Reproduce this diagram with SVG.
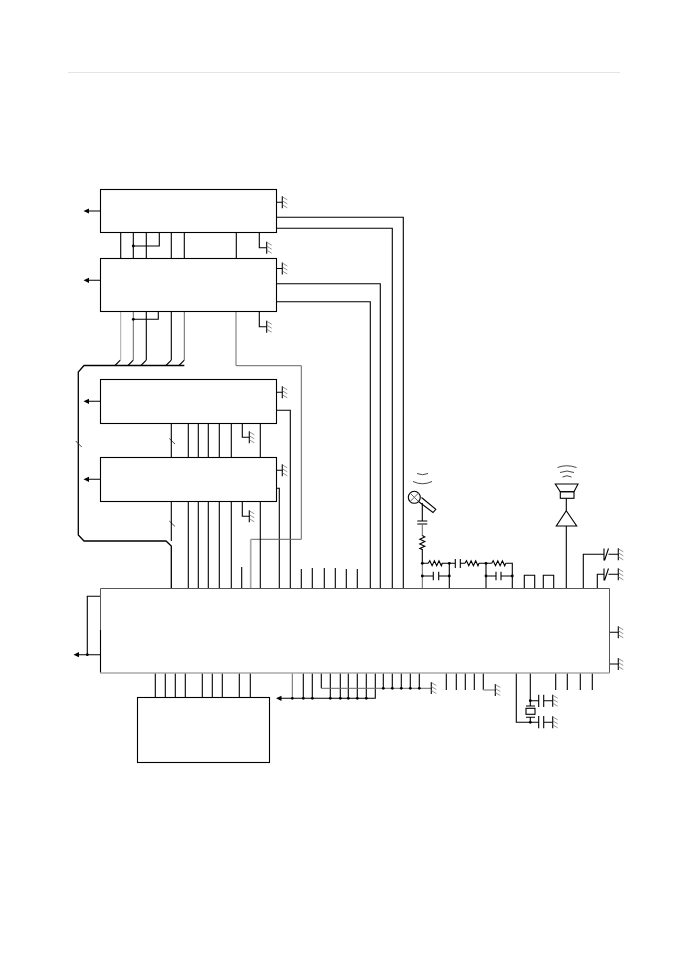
<svg xmlns="http://www.w3.org/2000/svg" width="688" height="972" viewBox="0 0 688 972">
<style>
.b{fill:#fff;stroke:#000;stroke-width:1.1}
.w{fill:none;stroke:#000;stroke-width:1.1}
.g{fill:none;stroke:#666;stroke-width:1}
.l{fill:none;stroke:#aaa;stroke-width:1}
.t{fill:none;stroke:#aaa;stroke-width:1.7}
.h{fill:none;stroke:#777;stroke-width:.8}
.a{fill:none;stroke:#333;stroke-width:.9}
.bus{fill:none;stroke:#000;stroke-width:1.3}
.d{fill:#000}
</style>
<defs>
<g id="gnd"><path class="w" d="M0,-6V6"/><path class="h" d="M0,-5.500l5,3M0,-1.500l5,3M0,2.500l5,3"/></g>
<g id="arr"><path class="d" d="M-0.500,0l5.500,-2.600v5.200z"/></g>
<circle id="dot" class="d" r="1.400"/>
<g id="res"><path class="w" d="M0,0l1.500,-2.500l2.300,5l2.300,-5l2.300,5l2.300,-5l2.300,5l1,-2.500"/></g>
</defs>
<rect width="688" height="972" fill="#fff"/>
<path d="M68,72.500H620" fill="none" stroke="#e4e4e4" stroke-width="1"/>

<g id="connectors">
<path class="w" d="M120.700,232V258M133.300,232V258M146.300,232V258M171.300,232V258M184.300,232V258M236.300,232V258M159.300,232V246H132.700"/>
<use href="#dot" x="133.300" y="246"/>
<path class="w" d="M259.300,232V247.700H266.700"/>
<use href="#gnd" x="266.700" y="247.700"/>
<path class="w" d="M100,211H87M100,280.300H87M100,401.300H87M100,479.300H87"/>
<use href="#arr" x="84" y="211"/><use href="#arr" x="84" y="280.300"/><use href="#arr" x="84" y="401.300"/><use href="#arr" x="84" y="479.300"/>
<path class="w" d="M276.500,202.300H282.300M276.500,268.500H282.300M276.500,392.300H282.300M276.500,470.300H282.300"/>
<use href="#gnd" x="282.300" y="202.300"/><use href="#gnd" x="282.300" y="268.500"/><use href="#gnd" x="282.300" y="392.300"/><use href="#gnd" x="282.300" y="470.300"/>
<path class="w" d="M276.500,217.300H403.300V588.500M276.500,228.300H392.300V588.500M276.500,283.700H380.300V588.500M276.500,301.700H370.300V588.500M276.500,410.300H290.300V588.500M276.500,488.300H279.300V588.500"/>
<path class="l" d="M120.700,311V360"/>
<path class="g" d="M133.300,311V360M184.300,311V360"/>
<path class="w" d="M146.300,311V360M171.300,311V360M158.300,311V319.300H132.700"/>
<use href="#dot" x="133.300" y="319.300"/>
<path class="w" d="M259.300,311V326.700H266.700"/>
<use href="#gnd" x="266.700" y="326.700"/>
<path class="t" d="M236,311V365.500"/>
<path class="g" d="M236,365.700H301.300V539.300H250.700"/>
<path class="t" d="M250.700,539.300V588.500"/>
<path class="bus" d="M184.300,365.500H84L78.300,372V535L84,541H166L171.300,546V588.500"/>
<path class="w" d="M115,365.500l5.300,-5.300M128,365.500l5.300,-5.300M141,365.500l5.300,-5.300M166,365.500l5.300,-5.300M179,365.500l5.300,-5.300"/>
<path class="a" d="M75.700,441l6,6M169.300,438.500l5.700,5.500M169.300,521l5.700,5.500"/>
<path class="w" d="M171.300,423V457M188.300,423V457M198.300,423V457M208.300,423V457M219.300,423V457M231.300,423V457M260.300,423V457M242.300,423V437.300H249.300"/>
<use href="#gnd" x="249.300" y="437.300"/>
<path class="w" d="M171.300,501V541M188.300,501V588.500M198.300,501V588.500M208.300,501V588.500M219.300,501V588.500M231.300,501V588.500M260.300,501V588.500M242.300,501V516.300H249.300"/>
<use href="#gnd" x="249.300" y="516.300"/>
<path class="w" d="M241.700,567V588.500M301.300,569V588.500M312.300,568V588.500M324.300,568V588.500M335.300,568V588.500M346.300,569V588.500M357.300,569V588.500"/>
<path class="w" d="M100.500,596.300H87.300V654.700M100.500,654.700H77"/>
<use href="#dot" x="87.300" y="654.700"/>
<use href="#arr" x="74" y="654.700"/>
<path class="w" d="M155.300,673V697M165.300,673V697M175.300,673V697M185.300,673V697M202.300,673V697M212.300,673V697M222.300,673V697M239.300,673V697M250.300,673V697"/>
<path class="g" d="M292.300,673V698.300"/>
<path class="w" d="M303.300,673V698.300M312.300,673V698.300M330.300,673V698.300M340.300,673V698.300M348.300,673V698.300M357.300,673V698.300M366.300,673V698.300M375.300,673V698.300H279"/>
<use href="#arr" x="276.500" y="698.300"/>
<use href="#dot" x="292.300" y="698.300"/><use href="#dot" x="303.300" y="698.300"/><use href="#dot" x="312.300" y="698.300"/><use href="#dot" x="330.300" y="698.300"/><use href="#dot" x="340.300" y="698.300"/><use href="#dot" x="348.300" y="698.300"/><use href="#dot" x="357.300" y="698.300"/><use href="#dot" x="366.300" y="698.300"/>
<path class="w" d="M321.300,673V688.300M383.300,673V688.300M392.300,673V688.300M401.300,673V688.300M410.300,673V688.300M419.300,673V688.300"/>
<path class="g" d="M321.300,688.300H431.300"/>
<use href="#gnd" x="431.300" y="688"/>
<use href="#dot" x="383.300" y="688.300"/><use href="#dot" x="392.300" y="688.300"/><use href="#dot" x="401.300" y="688.300"/><use href="#dot" x="410.300" y="688.300"/><use href="#dot" x="419.300" y="688.300"/>
<path class="w" d="M446.300,673V690M456.300,673V690M465.300,673V690M474.300,673V690M483.300,673V690"/>
<path class="t" d="M483.300,690H495.300"/>
<use href="#gnd" x="495.300" y="690"/>
<path class="w" d="M555.700,673V690M567.300,673V690M580.300,673V690M592.300,673V690"/>
<path class="w" d="M516.300,673V722.300H538.700M530.300,673V706M526,706H535M526,717.300H535M530.300,717.300V722.300M530.300,700.700H538.700M538.700,694.700V707M543.700,694.700V707M543.700,700.700H552.700M538.700,716V728.300M543.700,716V728.300M543.700,722.300H552.700"/>
<rect class="w" x="526" y="708.300" width="9" height="6"/>
<use href="#dot" x="530.300" y="700.700"/><use href="#dot" x="530.300" y="722.300"/>
<use href="#gnd" x="552.700" y="700.700"/><use href="#gnd" x="552.700" y="722.300"/>
<path class="w" d="M609.500,632.300H618.300M609.500,664H618.300"/>
<use href="#gnd" x="618.300" y="632.300"/><use href="#gnd" x="618.300" y="664"/>
<path class="w" d="M422.300,503V521M417.300,521H427.300M417.300,524H427.300"/>
<path class="g" d="M422.300,524V536"/>
<path class="w" d="M422.300,549V563.300"/>
<use href="#res" transform="translate(422.300,535.500) rotate(90)"/>
<path class="g" d="M422.300,563.300V588.500"/>
<path class="w" d="M422.300,563.300H428.300M441.700,563.300H455.300M455.300,559V568M460.300,559V568M460.300,563.300H465M479,563.300H491.700M505.700,563.300H512.300V588.500M449.300,563.300V588.500M486,563.300V588.500"/>
<use href="#res" x="428.300" y="563.300"/><use href="#res" x="465" y="563.300"/><use href="#res" x="491.700" y="563.300"/>
<path class="w" d="M422.300,576H433.300M433.300,571.700V580.300M438.700,571.700V580.300M438.700,576H449.300M486,576H496M496,571.700V580.300M501,571.700V580.300M501,576H512.300"/>
<use href="#dot" x="422.300" y="563.300"/><use href="#dot" x="449.300" y="563.300"/><use href="#dot" x="486" y="563.300"/><use href="#dot" x="422.300" y="576"/><use href="#dot" x="449.300" y="576"/><use href="#dot" x="486" y="576"/><use href="#dot" x="512.300" y="576"/>
<path class="w" d="M524.300,588.500V575.300H534.700V588.500M543.300,588.500V575.300H553.700V588.500"/>
<path class="w" d="M566.300,588.500V526"/>
<path class="w" d="M583.300,588.500V554.300H604M604,548.500V560.500M608.500,548.500L604.500,560.500M608.500,554.300H618.300M597.300,588.500V574.300H604M604,568.500V580.500M608.500,568.500L604.500,580.500M608.500,574.300H618.300"/>
<use href="#gnd" x="618.300" y="554.300"/><use href="#gnd" x="618.300" y="574.300"/>
</g>

<g id="box1"><rect class="b" x="100.500" y="189.500" width="176" height="43"/></g>
<g id="box2"><rect class="b" x="100.500" y="258.500" width="176" height="53"/></g>
<g id="box3"><rect class="b" x="100.500" y="379.500" width="176" height="44"/></g>
<g id="box4"><rect class="b" x="100.500" y="457.500" width="176" height="44"/></g>
<g id="main">
<rect x="100.500" y="588.500" width="509" height="84.500" fill="#fff"/>
<path fill="none" stroke="#555" stroke-width="1" d="M100.500,630V588.500H609.500V673"/>
<path class="w" d="M100.500,630V673"/>
<path fill="none" stroke="#aaa" stroke-width="1.600" d="M100,673H609.500"/>
</g>
<g id="bottombox"><rect class="b" x="137.500" y="697.500" width="132" height="65"/></g>
<g id="microphone">
<circle class="w" cx="414.300" cy="497.300" r="6"/>
<path class="g" d="M410,493l8.600,8.600M418.600,493l-8.600,8.600"/>
<path class="w" d="M418.500,501.500L433,512.500L435.800,509.300L421.500,497.500"/>
<path class="a" d="M417,473.500q5.500,2.500 11,0M413,481.500q9.500,4.500 19,0"/>
</g>
<g id="speaker">
<path class="w" d="M566.300,510.700V498.300"/>
<path class="w" d="M566.300,510.700L576.700,526H556.300Z"/>
<rect class="w" x="560.300" y="491.700" width="13.700" height="6.600"/>
<path class="w" d="M555.300,484H578L574,491.700H560.300Z"/>
<path class="a" d="M557.500,467.500q9,-3.500 19,0M560,472.500q7,-3 14,0M562.500,477q4.500,-2.500 9,0"/>
</g>
</svg>
